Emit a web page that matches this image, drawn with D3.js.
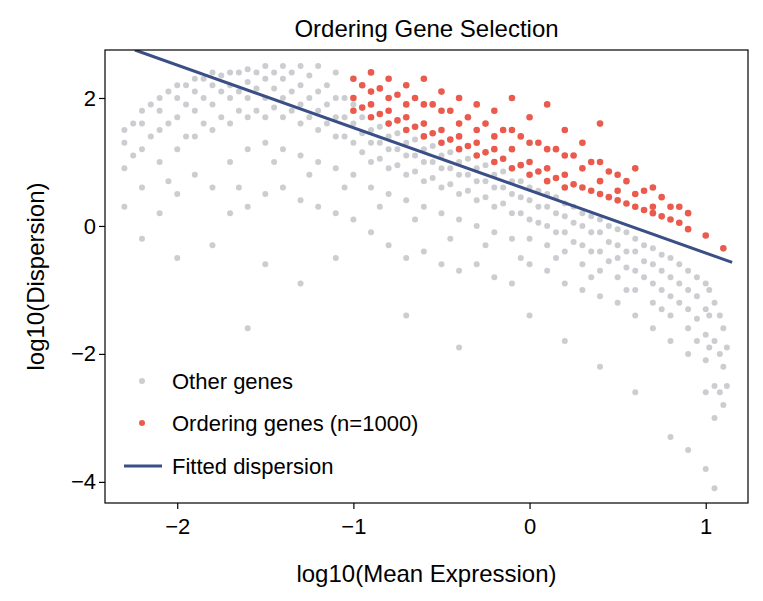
<!DOCTYPE html>
<html><head><meta charset="utf-8">
<script src="https://cdn.jsdelivr.net/npm/d3@7"></script>
<style>body{margin:0;background:#fff}text{font-family:Arial,"Liberation Sans",sans-serif}</style>
</head><body><div id="canvas"></div>
<script>
// [logMean, logDispersion]
const otherX = [-2.3,-2.2,-2.1,-2.0,-1.9,-1.8,-1.7,-1.6,-1.5,-1.4,-1.3,-1.2,-1.1,-1.0,-0.9,-0.8,-0.7,-0.6,-0.5,-0.4,-0.3,-0.2,-0.1,0.0,0.1,0.2,0.3,0.4,0.5,0.6,0.7,0.8,0.9,1.0,1.05,1.1];
const otherY = [
  [1.5,1.3,0.9,0.3],[1.8,1.6,1.2,0.6,-0.2],[2.0,1.8,1.5,1.0,0.2],[2.2,2.0,1.7,1.2,0.5,-0.5],
  [2.3,2.1,1.8,1.4,0.8],[2.4,2.2,1.9,1.5,0.6,-0.3],[2.4,2.2,2.0,1.6,1.0,0.2],[2.45,2.25,2.0,1.7,1.2,0.3,-1.6],
  [2.5,2.3,2.0,1.7,1.3,0.5,-0.6],[2.5,2.3,2.0,1.7,1.2,0.6],[2.5,2.2,1.9,1.6,1.1,0.4,-0.9],[2.5,2.1,1.8,1.5,1.0,0.3],
  [2.4,2.0,1.7,1.4,0.9,0.2,-0.5],[1.9,1.6,1.3,0.8,0.1],[1.5,1.3,1.0,0.6,-0.1],[1.4,1.2,0.9,0.5,-0.3],
  [1.3,1.1,0.8,0.4,-0.5,-1.4],[1.2,1.0,0.7,0.3,-0.4],[1.1,0.9,0.6,0.2,-0.6],[1.0,0.8,0.5,0.1,-0.7,-1.9],
  [0.9,0.7,0.4,0.0,-0.6],[0.8,0.6,0.3,-0.1,-0.8],[0.7,0.5,0.2,-0.2,-0.9],[0.6,0.4,0.1,-0.2,-0.6,-1.4],
  [0.5,0.3,0.0,-0.3,-0.7],[0.35,0.15,-0.1,-0.4,-0.9,-1.8],[0.2,0.0,-0.3,-0.6,-1.0],[0.1,-0.1,-0.4,-0.7,-1.1,-2.2],
  [-0.05,-0.3,-0.5,-0.8,-1.2],[-0.2,-0.4,-0.7,-1.0,-1.4,-2.6],[-0.35,-0.6,-0.9,-1.2,-1.6],[-0.5,-0.8,-1.1,-1.4,-1.8,-3.3],
  [-0.7,-1.0,-1.3,-1.6,-2.0,-3.5],[-0.9,-1.3,-1.7,-2.1,-2.6,-3.8],[-1.2,-1.8,-2.5,-3.0,-4.1],[-1.6,-2.2,-2.8]
];
// denser core of the grey band, between the columns above
const bandX = [-2.25,-2.15,-2.05,-1.95,-1.85,-1.75,-1.65,-1.55,-1.45,-1.35,-1.25,-1.15,-1.05,-0.95,-0.85,-0.75,-0.65,-0.55,-0.45,-0.35,-0.25,-0.15,-0.05,0.05,0.15,0.25,0.35,0.45,0.55,0.65,0.75,0.85,0.95,1.02,1.08,1.12];
const bandY = [
  [1.6,1.1],[1.9,1.4],[2.1,1.6,0.7],[2.2,1.9,1.4],[2.3,2.0,1.6],[2.35,2.1,1.7],[2.4,2.1,1.8,0.6],[2.4,2.15,1.8],
  [2.4,2.15,1.85,1.0],[2.4,2.1,1.8],[2.35,2.0,1.7,0.8],[2.2,1.9,1.6],[2.0,1.7,1.4,0.6],[1.7,1.45,1.15],[1.55,1.3,1.05,0.3],[1.45,1.2,0.95],
  [1.35,1.1,0.85,0.1],[1.25,1.0,0.75],[1.15,0.9,0.65,-0.2],[1.05,0.8,0.55],[0.95,0.7,0.45,-0.3],[0.85,0.6,0.35],[0.7,0.45,0.2,-0.5],[0.55,0.3,0.05],
  [0.45,0.2,-0.1,-0.5],[0.3,0.05,-0.25],[0.15,-0.1,-0.4,-0.8],[0.0,-0.25,-0.55],[-0.1,-0.4,-0.65,-1.0],[-0.3,-0.55,-0.8],[-0.45,-0.7,-1.0,-1.3],[-0.6,-0.9,-1.2],
  [-0.8,-1.1,-1.45,-1.8],[-1.0,-1.4,-1.9],[-1.4,-2.0,-2.6],[-1.9,-2.5]
];
const orderX = [-1.0,-0.9,-0.8,-0.7,-0.6,-0.5,-0.4,-0.3,-0.2,-0.1,0.0,0.1,0.2,0.3,0.4,0.5,0.6,0.7,0.8,0.9,1.0,1.1];
const orderY = [
  [2.3,2.0,1.8],[2.4,2.1,1.9,1.7],[2.3,2.0,1.8,1.6],[2.2,1.9,1.7,1.5],[2.3,1.9,1.6,1.4],[2.1,1.8,1.5,1.3],
  [2.0,1.6,1.4,1.2],[1.9,1.5,1.3,1.1],[1.8,1.4,1.2,1.0],[2.0,1.5,1.2,0.9],[1.7,1.3,1.0,0.8],[1.9,1.2,0.9,0.7],
  [1.5,1.1,0.8,0.6],[1.3,0.9,0.6],[1.6,1.0,0.7,0.5],[0.8,0.55,0.4],[0.9,0.5,0.3],[0.6,0.3,0.2],[0.3,0.1],
  [0.2,-0.05],[-0.15],[-0.35]
];
const order2X = [-0.95,-0.85,-0.75,-0.65,-0.55,-0.45,-0.35,-0.25,-0.15,-0.05,0.05,0.15,0.25,0.35,0.45,0.55,0.65,0.75,0.85];
const order2Y = [
  [2.2,1.85],[2.15,1.75],[2.05,1.65],[2.0,1.55],[1.9,1.45],[1.8,1.35],[1.7,1.25],[1.6,1.15],[1.5,1.05],[1.4,0.95],
  [1.3,0.85],[1.2,0.75],[1.1,0.65],[1.0,0.55],[0.85,0.45],[0.7,0.35],[0.55,0.25],[0.45,0.15],[0.3,0.05]
];
const fitX = [-2.24, 1.15];
const fitY = [2.75, -0.57];
const xTicks = [-2,-1,0,1];
const yTicks = [-4,-2,0,2];

const flat = (xs, ys) => xs.flatMap((x, i) => ys[i].map(y => [x, y]));
const other = flat(otherX, otherY).concat(flat(bandX, bandY));
const order = flat(orderX, orderY).concat(flat(order2X, order2Y));

const width = 763, height = 601;
const margin = { top: 50, left: 105, bottom: 98, right: 15 };
const iw = width - margin.left - margin.right, ih = height - margin.top - margin.bottom;
const svg = d3.select("#canvas").append("svg").attr("width", width).attr("height", height);
const g = svg.append("g").attr("transform", `translate(${margin.left},${margin.top})`);
const x = d3.scaleLinear().domain([-2.41, 1.24]).range([0, iw]);
const y = d3.scaleLinear().domain([-4.33, 2.75]).range([ih, 0]);

g.append("defs").append("clipPath").attr("id","c").append("rect").attr("width",iw).attr("height",ih);
const p = g.append("g").attr("clip-path","url(#c)");
p.selectAll(".o").data(other).enter().append("circle").attr("cx",d=>x(d[0])).attr("cy",d=>y(d[1]))
  .attr("r",3).attr("fill","#9a9ca3").attr("opacity",0.5);
p.selectAll(".r").data(order).enter().append("circle").attr("cx",d=>x(d[0])).attr("cy",d=>y(d[1]))
  .attr("r",3.3).attr("fill","#e8483a").attr("opacity",0.9);
p.append("line").attr("x1",x(fitX[0])).attr("y1",y(fitY[0])).attr("x2",x(fitX[1])).attr("y2",y(fitY[1]))
  .attr("stroke","#3a4f86").attr("stroke-width",3);

const fmt = d => d < 0 ? "\u2212" + (-d) : d;
const ax = g.append("g").attr("transform",`translate(0,${ih})`).call(d3.axisBottom(x).tickValues(xTicks).tickFormat(fmt).tickSize(6));
const ay = g.append("g").call(d3.axisLeft(y).tickValues(yTicks).tickFormat(fmt).tickSize(6));
[ax, ay].forEach(a => { a.attr("font-size",null).attr("font-family",null); a.selectAll("text").style("font-size","22px").attr("fill","#000"); a.select(".domain").remove(); a.selectAll("line").attr("stroke","#000").attr("stroke-width",1.2); });
ax.selectAll("text").attr("dy","1em");
g.append("rect").attr("width",iw).attr("height",ih).attr("fill","none").attr("stroke","#000").attr("stroke-width",1.2);

svg.append("text").attr("x",margin.left+iw/2).attr("y",37).attr("text-anchor","middle").style("font-size","24px").text("Ordering Gene Selection");
svg.append("text").attr("x",margin.left+iw/2).attr("y",582).attr("text-anchor","middle").style("font-size","24px").text("log10(Mean Expression)");
svg.append("text").attr("transform",`translate(44,${margin.top+ih/2}) rotate(-90)`).attr("text-anchor","middle").style("font-size","24px").text("log10(Dispersion)");

const lg = svg.append("g").style("font-size","22px");
[["Other genes","#9a9ca3",0.5,381],["Ordering genes (n=1000)","#e8483a",0.9,423]].forEach(([t,c,o,yy])=>{
  lg.append("circle").attr("cx",142).attr("cy",yy).attr("r",3).attr("fill",c).attr("opacity",o);
  lg.append("text").attr("x",172).attr("y",yy+8).text(t);
});
lg.append("line").attr("x1",124).attr("x2",162).attr("y1",466).attr("y2",466).attr("stroke","#3a4f86").attr("stroke-width",3);
lg.append("text").attr("x",172).attr("y",474).text("Fitted dispersion");
</script></body></html>
